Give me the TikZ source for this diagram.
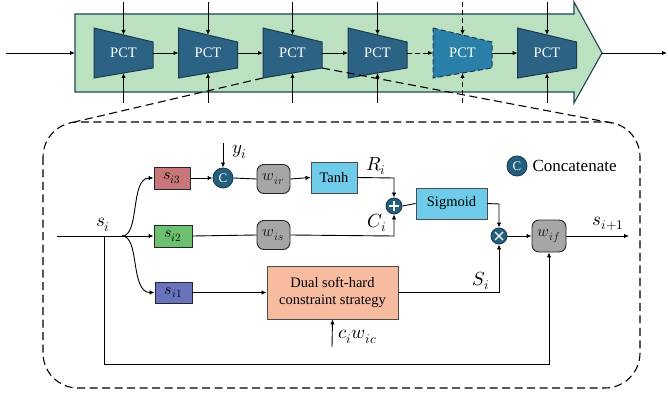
\documentclass[tikz,border=0pt]{standalone}
\usepackage{fontspec}
\usepackage{unicode-math}
\setmainfont{Liberation Serif}
\setmathfont{Latin Modern Math}
\usetikzlibrary{arrows.meta,calc}
\definecolor{greenfill}{HTML}{BCE1C0}
\definecolor{greenedge}{HTML}{1F4654}
\definecolor{pctfill}{HTML}{2C6283}
\definecolor{pctfillb}{HTML}{2A80A8}
\definecolor{pctedge}{HTML}{1B3C4F}
\definecolor{redbox}{HTML}{C9767A}
\definecolor{greenbox}{HTML}{6CC06E}
\definecolor{bluebox}{HTML}{6A74BE}
\definecolor{cyanbox}{HTML}{6ECBEA}
\definecolor{graybox}{HTML}{A6A6A6}
\definecolor{salmon}{HTML}{F7BBA0}
\definecolor{circfill}{HTML}{23607F}
\begin{document}
\begin{tikzpicture}[x=1pt,y=-1pt,
  txt/.style={font=\fontsize{14.5}{17}\selectfont},
  mth/.style={font=\fontsize{19}{22}\selectfont},
  ln/.style={line width=0.9pt},
  arr/.style={line width=0.9pt,-{Latex[length=5pt,width=4.5pt]}},
  darr/.style={arr,dashed,dash pattern=on 5pt off 3pt},
  pct/.style={draw=pctedge,line width=1pt,fill=pctfill},
  pctd/.style={draw=pctedge,line width=1pt,fill=pctfillb,dash pattern=on 5pt off 3pt},
  sbox/.style={draw=black!85,line width=0.9pt,inner sep=0pt,minimum height=22pt,font=\fontsize{16}{18}\selectfont},
  gbox/.style={draw=black!85,line width=0.9pt,fill=graybox,rounded corners=7pt,inner sep=0pt,minimum width=33pt,minimum height=29pt,font=\fontsize{16}{18}\selectfont,text=black!90},
  cbox/.style={draw=black!70,line width=0.9pt,fill=cyanbox,inner sep=0pt,minimum height=31pt,txt},
  opc/.style={circle,draw=pctedge,line width=0.9pt,fill=circfill,inner sep=0pt,minimum size=16pt},
  cc/.style={circle,draw=pctedge,line width=0.9pt,fill=circfill,inner sep=0pt,minimum size=20pt,text=white,font=\fontsize{13}{15}\selectfont},
  bigdash/.style={line width=1.1pt,dash pattern=on 8pt off 4.5pt}
]
\useasboundingbox (0,0) rectangle (668,395);

% ---------- top: green arrow band ----------
\draw[fill=greenfill,draw=greenedge,line width=1.1pt]
  (75,14) -- (574,14) -- (574,2) -- (602,53) -- (574,103) -- (574,92) -- (75,92) -- cycle;
\coordinate (inA) at (6,53);
\coordinate (bandL) at (75,53);
\coordinate (bandR) at (602,53);
\coordinate (outA) at (667,53);
\draw[arr] (inA) -- (bandL);
\draw[arr] (bandR) -- (outA);

\foreach \i/\cx/\st in {1/123.5/pct,2/208/pct,3/292.5/pct,4/377.5/pct,5/462.5/pctd,6/547/pct}{
  \draw[\st] (\cx-29.5,28) -- (\cx+29.5,42) -- (\cx+29.5,68) -- (\cx-29.5,78) -- cycle;
  \node[txt,text=white] (p\i) at (\cx,53) {PCT};
  \coordinate (p\i w) at (\cx-29.5,53);
  \coordinate (p\i e) at (\cx+29.5,53);
  \coordinate (p\i t) at (\cx,35);
  \coordinate (p\i b) at (\cx,73);
  \coordinate (p\i tt) at (\cx,2);
  \coordinate (p\i bb) at (\cx,103);
  \coordinate (p\i bl) at (\cx-29.5,78);
  \coordinate (p\i br) at (\cx+29.5,68);
}
\foreach \i in {1,2,3,4,6}{
  \draw[arr] (p\i tt) -- (p\i t);
  \draw[arr] (p\i bb) -- (p\i b);
}
\draw[darr] (p5tt) -- (p5t);
\draw[darr] (p5bb) -- (p5b);
\draw[arr] (p1e) -- (p2w);
\draw[arr] (p2e) -- (p3w);
\draw[arr] (p3e) -- (p4w);
\draw[darr] (p4e) -- (p5w);
\draw[arr] (p5e) -- (p6w);

% ---------- zoom box ----------
\draw[bigdash,rounded corners=35pt] (43,122) rectangle (640,388);
\coordinate (zl) at (70,123);
\coordinate (zr) at (612,123);
\draw[bigdash] (p3bl) -- (zl);
\draw[bigdash] (p3br) -- (zr);

% ---------- inner diagram ----------
\coordinate (sin) at (57,236);
\coordinate (br) at (122,236);
\coordinate (tap) at (104,236);
\node[mth,anchor=south] (silab) at (103,235) {$s_i$};

\node[sbox,fill=redbox,minimum width=36pt] (s3) at (172,178) {$s_{i3}$};
\node[sbox,fill=greenbox,minimum width=38pt] (s2) at (173,236) {$s_{i2}$};
\node[sbox,fill=bluebox,minimum width=37pt,minimum height=21pt] (s1) at (173.5,292.5) {$s_{i1}$};

\draw[ln] (sin) -- (br);
\draw[arr] (br) .. controls (140,236) and (130,178) .. (s3.west);
\draw[arr] (br) -- (s2.west);
\draw[arr] (br) .. controls (140,236) and (130,292.5) .. (s1.west);

\node[cc] (cat) at (223,178) {C};
\draw[arr] (s3.east) -- (cat.west);
\coordinate (yin) at (223,143);
\draw[arr] (yin) -- (cat.north);
\node[mth,anchor=west] (ylab) at (229,152) {$y_i$};

\node[gbox] (wir) at (273.5,179) {$w_{ir}$};
\node[gbox] (wis) at (273.5,235) {$w_{is}$};
\draw[ln] (cat.east) -- (wir.west);
\draw[ln] (s2.east) -- (wis.west);

\node[cbox,minimum width=46pt] (tanh) at (334,177.5) {Tanh};
\draw[arr] (wir.east) -- (tanh.west);

\node[opc] (plus) at (394,206) {};
\draw[white,line width=1.3pt] ($(plus)+(-5,0)$) -- ($(plus)+(5,0)$) ($(plus)+(0,-5)$) -- ($(plus)+(0,5)$);
\draw[arr] (tanh.east) -- (394,178) -- (plus.north);
\node[mth] (rlab) at (376,166) {$R_i$};
\draw[arr] (wis.east) -- (394,236) -- (plus.south);
\node[mth] (clab) at (377,223) {$C_i$};

\node[cbox,minimum width=71pt] (sig) at (451.5,203.5) {Sigmoid};
\draw[ln] (plus.east) -- (sig.west);

\node[opc] (times) at (499,236) {};
\draw[white,line width=1.3pt] ($(times)+(-4,-4)$) -- ($(times)+(4,4)$) ($(times)+(-4,4)$) -- ($(times)+(4,-4)$);
\draw[arr] (sig.east) -- (499,204) -- (times.north);

\node[gbox,minimum width=34pt,minimum height=32pt] (wif) at (549,236) {$w_{if}$};
\draw[arr] (times.east) -- (wif.west);
\coordinate (sout) at (629,236);
\draw[arr] (wif.east) -- (sout);
\node[mth] (slab) at (608,224) {$s_{i+1}$};

\node[draw=black!70,line width=0.9pt,fill=salmon,minimum width=131pt,minimum height=53pt,align=center,txt,inner sep=0pt] (dual) at (332.5,292.5) {Dual soft-hard\\constraint strategy};
\draw[arr] (s1.east) -- (dual.west);
\draw[arr] (dual.east) -- (499,292.5) -- (times.south);
\node[mth] (Slab) at (481,281) {$S_i$};
\coordinate (cin) at (332,347);
\draw[arr] (cin) -- (dual.south);
\node[mth,anchor=west] (cwlab) at (335,337) {$c_i w_{ic}$};

\draw[arr] (tap) -- (104,364) -- (549,364) -- (wif.south);

\node[cc] (legc) at (517,166) {C};
\node[anchor=west,font=\fontsize{17}{20}\selectfont] (legt) at (529,166) {Concatenate};
\end{tikzpicture}
\end{document}
